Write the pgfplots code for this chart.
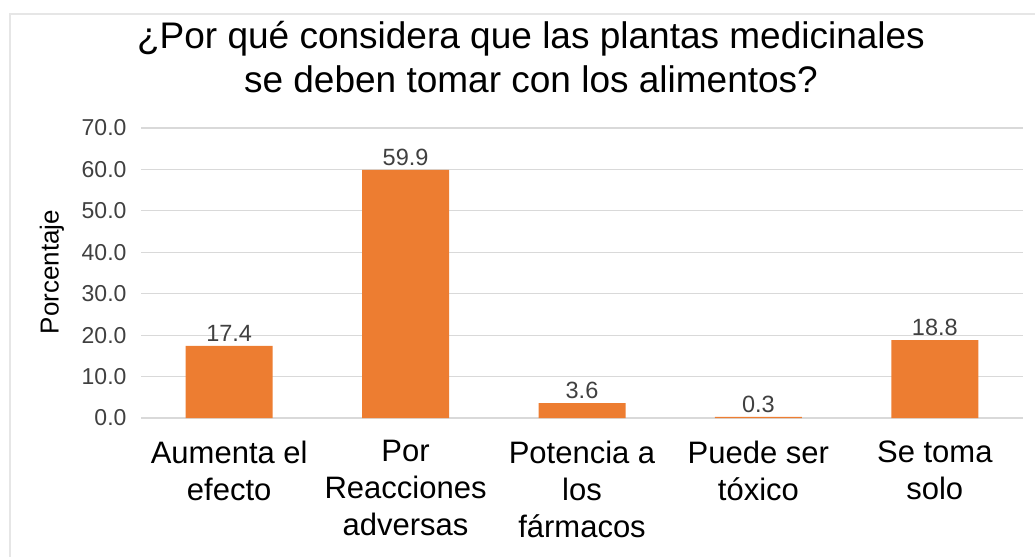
\documentclass[border=0pt]{standalone}
\usepackage{fontspec}
\setmainfont{Liberation Sans}
\usepackage{pgfplots}
\pgfplotsset{compat=1.18}
\definecolor{barorange}{HTML}{ED7D31}
\definecolor{gridgray}{HTML}{D9D9D9}
\definecolor{ticktext}{HTML}{404040}
\definecolor{frame}{HTML}{E6E6E6}
\begin{document}
\begin{tikzpicture}
\path[use as bounding box] (0pt,0pt) rectangle (1035pt,-557pt);
\draw[frame, line width=1.2pt] (10pt,-557pt) -- (10pt,-14pt) -- (1035pt,-14pt);
\begin{axis}[
  at={(141pt,-418pt)}, anchor=south west,
  scale only axis, width=882pt, height=290pt,
  xmin=-0.5, xmax=4.5, ymin=0, ymax=70,
  ytick={0,10,...,70},
  xtick=data,
  xticklabels={{Aumenta el\\efecto},{Por\\Reacciones\\adversas},{Potencia a\\los\\fármacos},{Puede ser\\tóxico},{Se toma\\solo}},
  xticklabel style={align=center, font=\fontsize{31}{37}\selectfont, text=black, yshift=-19pt},
  yticklabel style={font=\fontsize{23}{26}\selectfont, text=ticktext, xshift=-11pt},
  /pgf/number format/assume math mode=true,
  yticklabel={\pgfmathprintnumber[fixed,fixed zerofill,precision=1]{\tick}},
  major tick length=0pt,
  ymajorgrids, grid style={draw=gridgray, line width=1.2pt},
  axis x line*=bottom, axis y line*=left,
  x axis line style={draw=gridgray, line width=1.2pt, -},
  y axis line style={draw=none},
  ybar, bar width=87pt,
  nodes near coords,
  nodes near coords style={font=\fontsize{23.5}{26}\selectfont, text=ticktext, yshift=1pt, /pgf/number format/.cd, fixed, fixed zerofill, precision=1, assume math mode=true},
  clip=false,
]
\addplot[fill=barorange, draw=none] coordinates {(0,17.4) (1,59.9) (2,3.6) (3,0.3) (4,18.8)};
\end{axis}
\node[anchor=base, font=\fontsize{37}{44}\selectfont, text=black] at (531pt,-48pt) {¿Por qué considera que las plantas medicinales};
\node[anchor=base, font=\fontsize{37}{44}\selectfont, text=black] at (531pt,-92pt) {se deben tomar con los alimentos?};
\node[rotate=90, font=\fontsize{26}{30}\selectfont, text=black] at (52pt,-272pt) {Porcentaje};
\end{tikzpicture}
\end{document}
